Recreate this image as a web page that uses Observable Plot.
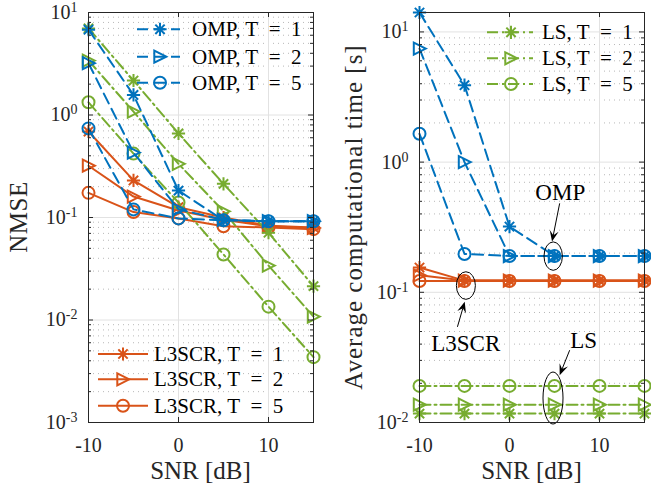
<!DOCTYPE html>
<html><head><meta charset="utf-8">
<script src="https://cdn.jsdelivr.net/npm/d3@7"></script>
<script src="https://cdn.jsdelivr.net/npm/@observablehq/plot@0.6"></script>
<style>
body{margin:0;background:#fff}
#wrap{position:relative;width:651px;height:489px;overflow:hidden}
#wrap svg{position:absolute;top:0;background:#fff}
</style>
</head><body><div id="wrap"></div>
<script>
// ---------------- data ----------------
const snr = [-10, -5, 0, 5, 10, 15];
const xTickValues = [-10, 0, 10];

// Left panel: NMSE
const nmseOMP_T1 = [6.8, 1.57, 0.183, 0.094, 0.092, 0.092];
const nmseOMP_T2 = [3.2, 0.43, 0.12, 0.095, 0.092, 0.092];
const nmseOMP_T5 = [0.74, 0.12, 0.098, 0.094, 0.092, 0.092];
const nmseLS_T1 = [7.0, 2.17, 0.66, 0.213, 0.071, 0.0214];
const nmseLS_T2 = [3.4, 1.08, 0.334, 0.115, 0.034, 0.0108];
const nmseLS_T5 = [1.33, 0.42, 0.14, 0.0436, 0.0135, 0.00434];
const nmseL3_T1 = [0.69, 0.23, 0.126, 0.1, 0.083, 0.08];
const nmseL3_T2 = [0.32, 0.16, 0.117, 0.095, 0.082, 0.079];
const nmseL3_T5 = [0.174, 0.113, 0.098, 0.082, 0.08, 0.077];
const nmseTicks = [1e-3, 1e-2, 1e-1, 1, 10];

// Right panel: average computational time [s]
const timeOMP_T1 = [14.1, 3.9, 0.32, 0.19, 0.19, 0.19];
const timeOMP_T2 = [7.45, 1.0, 0.19, 0.19, 0.19, 0.19];
const timeOMP_T5 = [1.65, 0.197, 0.19, 0.19, 0.19, 0.19];
const timeL3_T1 = [0.155, 0.123, 0.123, 0.123, 0.123, 0.123];
const timeL3_T2 = [0.135, 0.123, 0.123, 0.123, 0.123, 0.123];
const timeL3_T5 = [0.122, 0.122, 0.122, 0.122, 0.122, 0.122];
const timeLS_T1 = [0.0117, 0.0117, 0.0117, 0.0117, 0.0117, 0.0117];
const timeLS_T2 = [0.0137, 0.0137, 0.0137, 0.0137, 0.0137, 0.0137];
const timeLS_T5 = [0.0191, 0.0191, 0.0191, 0.0191, 0.0191, 0.0191];
const timeTicks = [1e-2, 1e-1, 1, 10];

const legendOMP = ["OMP, T\u2002=\u20021", "OMP, T\u2002=\u20022", "OMP, T\u2002=\u20025"];
const legendL3 = ["L3SCR, T\u2002=\u20021", "L3SCR, T\u2002=\u20022", "L3SCR, T\u2002=\u20025"];
const legendLS = ["LS, T\u2002=\u20021", "LS, T\u2002=\u20022", "LS, T\u2002=\u20025"];
const annotationLabels = ["OMP", "L3SCR", "LS"];
const xLabel = "SNR [dB]";
const yLabelLeft = "NMSE";
const yLabelRight = "Average computational time [s]";

// ---------------- styles ----------------
const FONT = "'Liberation Serif', 'Times New Roman', serif";
const AX = "#262626";
const COLOR = {OMP: "#0072BD", L3: "#D95319", LS: "#77AC30"};
const DASH = {OMP: "11,6", L3: null, LS: "11,4,2,4"};
const LW = 2, MR = 6;

const asterisk = {draw(ctx, size) {
  const r = Math.sqrt(size / Math.PI) * 1.1, d = r * 0.7071;
  ctx.moveTo(-r, 0); ctx.lineTo(r, 0); ctx.moveTo(0, -r); ctx.lineTo(0, r);
  ctx.moveTo(-d, -d); ctx.lineTo(d, d); ctx.moveTo(-d, d); ctx.lineTo(d, -d);
}};
const triRight = {draw(ctx, size) {
  const r = Math.sqrt(size / Math.PI);
  ctx.moveTo(r * 1.05, 0); ctx.lineTo(-r * 0.95, -r); ctx.lineTo(-r * 0.95, r); ctx.closePath();
}};
const SYM = [asterisk, triRight, "circle"];

function logMinor(lo, hi) {
  const out = [];
  for (let e = Math.floor(Math.log10(lo)); e <= Math.ceil(Math.log10(hi)); e++)
    for (let m = 2; m < 10; m++) { const v = m * Math.pow(10, e); if (v >= lo && v <= hi) out.push(v); }
  return out;
}

function seriesMarks(vals, method, k) {
  const data = snr.map((x, i) => ({x, y: vals[i]}));
  return [
    Plot.line(data, {x: "x", y: "y", stroke: COLOR[method], strokeWidth: LW, strokeDasharray: DASH[method], strokeLinejoin: "round"}),
    Plot.dot(data, {x: "x", y: "y", symbol: SYM[k], r: MR, stroke: COLOR[method], strokeWidth: LW, fill: "none"})
  ];
}

function legendMark(labels, method, place) {
  return (index, scales, values, dim) => {
    const g = d3.create("svg:g");
    const fl = dim.marginLeft, fr = dim.width - dim.marginRight, ft = dim.marginTop, fb = dim.height - dim.marginBottom;
    labels.forEach((lab, i) => {
      const y = place.fromTop ? ft + place.rows[i] : fb + place.rows[i];
      const base = place.fromRight ? fr : fl;
      const x1 = base + place.line[0], x2 = base + place.line[1], xm = base + place.marker, xt = base + place.text;
      const ln = g.append("line").attr("x1", x1).attr("x2", x2).attr("y1", y).attr("y2", y)
        .attr("stroke", COLOR[method]).attr("stroke-width", LW);
      if (DASH[method]) ln.attr("stroke-dasharray", DASH[method]);
      if (SYM[i] === "circle") {
        g.append("circle").attr("cx", xm).attr("cy", y).attr("r", MR).attr("fill", "none").attr("stroke", COLOR[method]).attr("stroke-width", LW);
      } else {
        g.append("path").attr("transform", `translate(${xm},${y})`).attr("d", d3.symbol().type(SYM[i]).size(MR * MR * Math.PI)())
          .attr("fill", "none").attr("stroke", COLOR[method]).attr("stroke-width", LW);
      }
      g.append("text").attr("x", xt).attr("y", y).attr("dy", "0.33em").attr("font-size", 21)
        .attr("text-anchor", "start").attr("font-family", FONT).attr("fill", "#000").text(lab);
    });
    return g.node();
  };
}

function labelMark(yLabel, dxFromFrameLeft, spacing) {
  return (index, scales, values, dim) => {
    const g = d3.create("svg:g");
    const fl = dim.marginLeft, fr = dim.width - dim.marginRight, ft = dim.marginTop, fb = dim.height - dim.marginBottom;
    g.append("text").attr("x", (fl + fr) / 2).attr("y", fb + 49).attr("dy", "0.33em").attr("text-anchor", "middle")
      .attr("font-size", 25).attr("font-family", FONT).attr("fill", AX).text(xLabel);
    g.append("text").attr("transform", `translate(${fl + dxFromFrameLeft},${(ft + fb) / 2}) rotate(-90)`)
      .attr("dy", "0.33em").attr("text-anchor", "middle").attr("letter-spacing", spacing)
      .attr("font-size", 25).attr("font-family", FONT).attr("fill", AX).text(yLabel);
    return g.node();
  };
}

function makePanel(cfg) {
  const innerW = cfg.width - cfg.ml - cfg.mr, innerH = 489 - cfg.mt - cfg.mb;
  const minor = logMinor(cfg.yDomain[0], cfg.yDomain[1]);
  const marks = [
    Plot.gridY(minor, {stroke: "#b8b8b8", strokeOpacity: 1, strokeDasharray: "1,4", strokeWidth: 1}),
    Plot.gridY(cfg.yMajor, {stroke: "#e2e2e2", strokeOpacity: 1, strokeWidth: 1}),
    Plot.gridX(xTickValues, {stroke: "#e2e2e2", strokeOpacity: 1, strokeWidth: 1}),
    ...cfg.series.flatMap(s => seriesMarks(s.vals, s.method, s.k)),
    ...cfg.extra,
    Plot.frame({stroke: AX, strokeWidth: 1}),
    Plot.tickX(xTickValues, {x: d => d, insetTop: innerH - 5, stroke: AX}),
    Plot.tickX(xTickValues, {x: d => d, insetBottom: innerH - 5, stroke: AX}),
    Plot.tickY(cfg.yMajor, {y: d => d, insetRight: innerW - 5, stroke: AX}),
    Plot.tickY(cfg.yMajor, {y: d => d, insetLeft: innerW - 5, stroke: AX}),
    Plot.tickY(minor, {y: d => d, insetRight: innerW - 3, stroke: AX}),
    Plot.tickY(minor, {y: d => d, insetLeft: innerW - 3, stroke: AX}),
    Plot.axisX(xTickValues, {tickSize: 0, tickPadding: 15, fontSize: 20, tickFormat: d => String(d), label: null, fill: AX}),
    Plot.axisY(cfg.yMajor, {tickSize: 0, tickPadding: 11, fontSize: 20, tickFormat: d => "10^" + Math.round(Math.log10(d)), label: null, fill: AX}),
    labelMark(cfg.yLabel, cfg.yLabelDx, cfg.yLabelSpacing),
    ...cfg.legends
  ];
  const svg = Plot.plot({
    width: cfg.width, height: 489,
    marginLeft: cfg.ml, marginRight: cfg.mr, marginTop: cfg.mt, marginBottom: cfg.mb,
    x: {domain: [-10, 15], label: null},
    y: {type: "log", domain: cfg.yDomain, label: null},
    style: {fontFamily: FONT, fontSize: "20px", color: AX, background: "#fff", overflow: "visible"},
    marks
  });
  svg.querySelectorAll("text").forEach(t => {
    const m = /^10\^(-?\d+)$/.exec(t.textContent);
    if (m) {
      t.textContent = "10";
      const ts = document.createElementNS("http://www.w3.org/2000/svg", "tspan");
      ts.setAttribute("dy", "-0.5em"); ts.setAttribute("font-size", "14px"); ts.textContent = m[1];
      t.appendChild(ts);
    }
  });
  svg.style.left = cfg.left + "px";
  return svg;
}

// annotations on the right panel (data coordinates)
const ellipses = [
  {x: 4.91, y: 0.188, rx: 9.2, ry: 14.2},
  {x: -4.79, y: 0.1117, rx: 9.5, ry: 13.8},
  {x: 4.89, y: 0.01528, rx: 10, ry: 26}
];
const annoText = [
  {x: 5.7, y: 0.585}, {x: -4.8, y: 0.0402}, {x: 8.3, y: 0.0425}
];
const arrows = [
  {x1: 5.63, y1: 0.478, x2: 4.78, y2: 0.243},
  {x1: -5.73, y1: 0.0538, x2: -4.92, y2: 0.0838},
  {x1: 6.74, y1: 0.0356, x2: 5.63, y2: 0.0229}
];
function annotationMark(index, scales) {
  const g = d3.create("svg:g");
  ellipses.forEach(e => g.append("ellipse").attr("cx", scales.x(e.x)).attr("cy", scales.y(e.y))
    .attr("rx", e.rx).attr("ry", e.ry).attr("fill", "none").attr("stroke", "#000").attr("stroke-width", 1));
  arrows.forEach(a => {
    const x1 = scales.x(a.x1), y1 = scales.y(a.y1), x2 = scales.x(a.x2), y2 = scales.y(a.y2);
    const ang = Math.atan2(y2 - y1, x2 - x1), L = 11, Wd = 4.5;
    const ux = Math.cos(ang), uy = Math.sin(ang), px = -uy, py = ux;
    g.append("line").attr("x1", x1).attr("y1", y1).attr("x2", x2 - ux * 6).attr("y2", y2 - uy * 6).attr("stroke", "#000").attr("stroke-width", 1);
    const bx = x2 - ux * L, by = y2 - uy * L, nx = x2 - ux * L * 0.6, ny = y2 - uy * L * 0.6;
    g.append("path").attr("d", `M${x2},${y2}L${bx + px * Wd},${by + py * Wd}L${nx},${ny}L${bx - px * Wd},${by - py * Wd}Z`).attr("fill", "#000");
  });
  annoText.forEach((t, i) => g.append("text").attr("x", scales.x(t.x)).attr("y", scales.y(t.y)).attr("dy", "0.33em")
    .attr("text-anchor", "middle").attr("font-size", 23).attr("font-family", FONT).attr("fill", "#000").text(annotationLabels[i]));
  return g.node();
}

const wrap = document.getElementById("wrap");
wrap.appendChild(makePanel({
  left: 0, width: 330, ml: 88, mr: 17, mt: 12, mb: 67,
  yDomain: [1e-3, 10], yMajor: nmseTicks, yLabel: yLabelLeft, yLabelDx: -69, yLabelSpacing: "0.5px",
  series: [
    {vals: nmseL3_T1, method: "L3", k: 0}, {vals: nmseL3_T2, method: "L3", k: 1}, {vals: nmseL3_T5, method: "L3", k: 2},
    {vals: nmseLS_T1, method: "LS", k: 0}, {vals: nmseLS_T2, method: "LS", k: 1}, {vals: nmseLS_T5, method: "LS", k: 2},
    {vals: nmseOMP_T1, method: "OMP", k: 0}, {vals: nmseOMP_T2, method: "OMP", k: 1}, {vals: nmseOMP_T5, method: "OMP", k: 2}
  ],
  extra: [],
  legends: [
    legendMark(legendOMP, "OMP", {fromTop: true, fromRight: true, rows: [17.3, 44.7, 70.7], line: [-176, -133], marker: -153, text: -121}),
    legendMark(legendL3, "L3", {fromTop: false, fromRight: false, rows: [-68, -42.7, -16.3], line: [10, 60], marker: 35, text: 66})
  ]
}));
wrap.appendChild(makePanel({
  left: 330, width: 321, ml: 89, mr: 7, mt: 12, mb: 67,
  yDomain: [1e-2, 14.1], yMajor: timeTicks, yLabel: yLabelRight, yLabelDx: -65, yLabelSpacing: "1px",
  series: [
    {vals: timeL3_T1, method: "L3", k: 0}, {vals: timeL3_T2, method: "L3", k: 1}, {vals: timeL3_T5, method: "L3", k: 2},
    {vals: timeLS_T1, method: "LS", k: 0}, {vals: timeLS_T2, method: "LS", k: 1}, {vals: timeLS_T5, method: "LS", k: 2},
    {vals: timeOMP_T1, method: "OMP", k: 0}, {vals: timeOMP_T2, method: "OMP", k: 1}, {vals: timeOMP_T5, method: "OMP", k: 2}
  ],
  extra: [annotationMark],
  legends: [
    legendMark(legendLS, "LS", {fromTop: true, fromRight: true, rows: [20.3, 46.3, 72], line: [-157, -111], marker: -133, text: -102})
  ]
}));
</script></body></html>
